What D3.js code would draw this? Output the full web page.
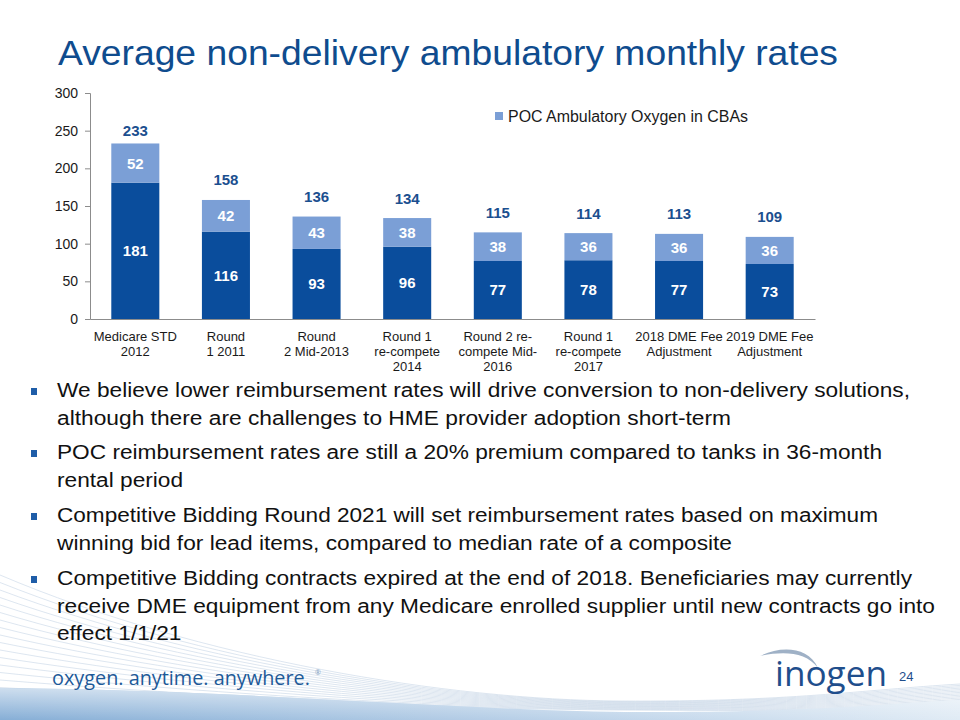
<!DOCTYPE html>
<html>
<head>
<meta charset="utf-8">
<script src="https://cdn.jsdelivr.net/npm/d3@7/dist/d3.min.js"></script>
<style>
  html, body { margin: 0; padding: 0; background: #fff; }
  svg { display: block; }
</style>
</head>
<body>
<svg id="chart" width="960" height="720"></svg>
<script>
// ---------- DATA ----------
const categories = [
  ["Medicare STD", "2012"],
  ["Round", "1 2011"],
  ["Round", "2 Mid-2013"],
  ["Round 1", "re-compete", "2014"],
  ["Round 2 re-", "compete Mid-", "2016"],
  ["Round 1", "re-compete", "2017"],
  ["2018 DME Fee", "Adjustment"],
  ["2019 DME Fee", "Adjustment"]
];
const baseValues = [181, 116, 93, 96, 77, 78, 77, 73];
const pocValues  = [52, 42, 43, 38, 38, 36, 36, 36];
const totalValues = [233, 158, 136, 134, 115, 114, 113, 109];
const yTicks = [0, 50, 100, 150, 200, 250, 300];
const legendLabel = "POC Ambulatory Oxygen in CBAs";
const titleText = "Average non-delivery ambulatory monthly rates";
const bullets = [
  ["We believe lower reimbursement rates will drive conversion to non-delivery solutions,",
   "although there are challenges to HME provider adoption short-term"],
  ["POC reimbursement rates are still a 20% premium compared to tanks in 36-month",
   "rental period"],
  ["Competitive Bidding Round 2021 will set reimbursement rates based on maximum",
   "winning bid for lead items, compared to median rate of a composite"],
  ["Competitive Bidding contracts expired at the end of 2018. Beneficiaries may currently",
   "receive DME equipment from any Medicare enrolled supplier until new contracts go into",
   "effect 1/1/21"]
];
const footerTagline = "oxygen. anytime. anywhere.";
const logoText = "inogen";
const pageNumber = "24";

// ---------- STYLE ----------
const darkBlue = "#0A4D9C";
const lightBlue = "#7B9FD6";
const titleBlue = "#0F4C8E";
const font = "'Liberation Sans', Arial, Helvetica, sans-serif";

const svg = d3.select("#chart");

// ---------- BACKGROUND DECORATION ----------
const defs = svg.append("defs");
const bandGrad = defs.append("linearGradient").attr("id", "band").attr("x1", "0").attr("x2", "1").attr("y1", "0").attr("y2", "0");
bandGrad.append("stop").attr("offset", "0").attr("stop-color", "#86aed6");
bandGrad.append("stop").attr("offset", "0.5").attr("stop-color", "#b4cde6");
bandGrad.append("stop").attr("offset", "1").attr("stop-color", "#e0ebf5");
const bandV = defs.append("linearGradient").attr("id", "bandV").attr("x1", "0").attr("x2", "0").attr("y1", "0").attr("y2", "1");
bandV.append("stop").attr("offset", "0").attr("stop-color", "#fff").attr("stop-opacity", "0.6");
bandV.append("stop").attr("offset", "1").attr("stop-color", "#fff").attr("stop-opacity", "0");

const deco = svg.append("g");
for (let i = 0; i < 16; i++) {
  const y0 = 575 + i * 7.5;
  const y1 = 660 + i * 2.6;
  const y2 = 700 + i * 0.6;
  const y3 = 690 + i * 1.4;
  deco.append("path")
    .attr("d", `M0,${y0} C200,${y1} 450,${y2} 620,${y2 + 1} S860,${y3} 960,${y3 - 6}`)
    .attr("fill", "none")
    .attr("stroke", "#c9d8e7")
    .attr("stroke-width", 0.8)
    .attr("opacity", 0.8);
}
deco.append("path")
  .attr("d", "M0,688 C250,690 480,712 640,712 S860,706 960,700 L960,720 L0,720 Z")
  .attr("fill", "url(#band)");
deco.append("path")
  .attr("d", "M0,688 C250,690 480,712 640,712 S860,706 960,700 L960,720 L0,720 Z")
  .attr("fill", "url(#bandV)");

// ---------- TITLE ----------
svg.append("text")
  .attr("x", 58).attr("y", 65)
  .attr("font-family", font).attr("font-size", 35)
  .attr("fill", titleBlue)
  .attr("textLength", 780).attr("lengthAdjust", "spacingAndGlyphs")
  .text(titleText);

// ---------- CHART ----------
const x = d3.scaleBand()
  .domain(d3.range(categories.length))
  .range([90, 815])
  .paddingInner(0.47)
  .paddingOuter(0.235);
const y = d3.scaleLinear().domain([0, 300]).range([319, 93]);

const g = svg.append("g");

// y axis
const yAxis = g.append("g")
  .attr("transform", "translate(90,0)")
  .call(d3.axisLeft(y).tickValues(yTicks).tickSize(5).tickPadding(7));
yAxis.select(".domain").attr("stroke", "#8c8c8c");
yAxis.selectAll(".tick line").attr("stroke", "#8c8c8c");
yAxis.selectAll(".tick text").attr("font-family", font).attr("font-size", 14).attr("fill", "#1a1a1a");

// bars
const idx = d3.range(categories.length);
g.selectAll(".base").data(idx).join("rect")
  .attr("x", i => x(i)).attr("width", x.bandwidth())
  .attr("y", i => y(baseValues[i]))
  .attr("height", i => y(0) - y(baseValues[i]))
  .attr("fill", darkBlue);
g.selectAll(".poc").data(idx).join("rect")
  .attr("x", i => x(i)).attr("width", x.bandwidth())
  .attr("y", i => y(baseValues[i] + pocValues[i]))
  .attr("height", i => y(baseValues[i]) - y(baseValues[i] + pocValues[i]))
  .attr("fill", lightBlue);

// x axis line
const xAxis = g.append("g")
  .attr("transform", "translate(0,319)")
  .call(d3.axisBottom(x).tickSize(0).tickFormat(""));
xAxis.select(".domain").attr("stroke", "#8c8c8c");

// segment labels
g.selectAll(".baseLbl").data(idx).join("text")
  .attr("x", i => x(i) + x.bandwidth() / 2)
  .attr("y", i => (y(0) + y(baseValues[i])) / 2 + 5.5)
  .attr("text-anchor", "middle")
  .attr("font-family", font).attr("font-size", 15).attr("font-weight", "bold")
  .attr("fill", "#fff")
  .text(i => baseValues[i]);
g.selectAll(".pocLbl").data(idx).join("text")
  .attr("x", i => x(i) + x.bandwidth() / 2)
  .attr("y", i => (y(baseValues[i]) + y(baseValues[i] + pocValues[i])) / 2 + 5.5)
  .attr("text-anchor", "middle")
  .attr("font-family", font).attr("font-size", 15).attr("font-weight", "bold")
  .attr("fill", "#fff")
  .text(i => pocValues[i]);
// totals
g.selectAll(".totLbl").data(idx).join("text")
  .attr("x", i => x(i) + x.bandwidth() / 2)
  .attr("y", i => Math.max(y(totalValues[i]) - 14.5, y(300) + 42.5))
  .attr("text-anchor", "middle")
  .attr("font-family", font).attr("font-size", 15).attr("font-weight", "bold")
  .attr("fill", "#1B4F8F")
  .text(i => totalValues[i]);

// category labels
const catG = g.selectAll(".cat").data(idx).join("text")
  .attr("text-anchor", "middle")
  .attr("font-family", font).attr("font-size", 13)
  .attr("fill", "#1a1a1a");
catG.each(function(i) {
  const t = d3.select(this);
  categories[i].forEach((line, k) => {
    t.append("tspan")
      .attr("x", x(i) + x.bandwidth() / 2)
      .attr("y", 341 + k * 15)
      .text(line);
  });
});

// legend
g.append("rect").attr("x", 495).attr("y", 112).attr("width", 8).attr("height", 8).attr("fill", lightBlue);
g.append("text").attr("x", 508).attr("y", 122)
  .attr("font-family", font).attr("font-size", 16).attr("fill", "#1a1a1a")
  .attr("textLength", 240).attr("lengthAdjust", "spacingAndGlyphs")
  .text(legendLabel);

// ---------- BULLETS ----------
const bulletG = svg.append("g");
const paraStart = [397, 459, 522, 585];
const lineGap = 27.5;
bullets.forEach((para, p) => {
  bulletG.append("rect")
    .attr("x", 31).attr("y", paraStart[p] - 9)
    .attr("width", 6).attr("height", 7)
    .attr("fill", "#1F5DA8");
  para.forEach((line, k) => {
    bulletG.append("text")
      .attr("class", "bl")
      .attr("x", 57).attr("y", paraStart[p] + k * lineGap)
      .attr("font-family", font).attr("font-size", 20)
      .attr("fill", "#111")
      .text(line);
  });
});
// fit widths: long lines to measured widths, short ones at same compression
const targetWidths = {
  "We believe lower reimbursement rates will drive conversion to non-delivery solutions,": 853,
  "although there are challenges to HME provider adoption short-term": 674,
  "POC reimbursement rates are still a 20% premium compared to tanks in 36-month": 825,
  "Competitive Bidding Round 2021 will set reimbursement rates based on maximum": 821,
  "winning bid for lead items, compared to median rate of a composite": 675,
  "Competitive Bidding contracts expired at the end of 2018. Beneficiaries may currently": 855,
  "receive DME equipment from any Medicare enrolled supplier until new contracts go into": 878
};
let ratios = [];
bulletG.selectAll("text.bl").each(function() {
  const t = d3.select(this);
  const w = this.getComputedTextLength();
  const tw = targetWidths[t.text()];
  if (tw) { ratios.push(tw / w); t.attr("textLength", tw).attr("lengthAdjust", "spacingAndGlyphs"); }
});
const avgRatio = d3.mean(ratios);
bulletG.selectAll("text.bl").each(function() {
  const t = d3.select(this);
  if (!targetWidths[t.text()]) {
    const w = this.getComputedTextLength();
    t.attr("textLength", w * avgRatio).attr("lengthAdjust", "spacingAndGlyphs");
  }
});

// ---------- FOOTER ----------
const tag = svg.append("text")
  .attr("x", 52).attr("y", 685)
  .attr("font-family", "'Open Sans', sans-serif").attr("font-size", 22)
  .attr("fill", "#1E5A98")
  .text(footerTagline);
// size the tagline so its natural width is ~260px
const tw0 = tag.node().getComputedTextLength();
tag.attr("font-size", 22 * 258 / tw0);
svg.append("text")
  .attr("x", 52 + 258 + 5).attr("y", 675)
  .attr("font-family", "'Open Sans', sans-serif").attr("font-size", 7)
  .attr("fill", "#7f9dbd")
  .text("®");

// logo swoosh
svg.append("path")
  .attr("d", "M760,656 C780,646 808,646 818,668 C806,652 784,651 760,656 Z")
  .attr("fill", "#9fb1c6");
svg.append("text")
  .attr("x", 775).attr("y", 686)
  .attr("font-family", "'Open Sans', sans-serif").attr("font-size", 34).attr("font-weight", 500)
  .attr("fill", "#1F4E8C")
  .attr("textLength", 112).attr("lengthAdjust", "spacingAndGlyphs")
  .text(logoText);
svg.append("text")
  .attr("x", 899).attr("y", 681)
  .attr("font-family", font).attr("font-size", 13)
  .attr("fill", "#1F4E8C")
  .text(pageNumber);
</script>
</body>
</html>
